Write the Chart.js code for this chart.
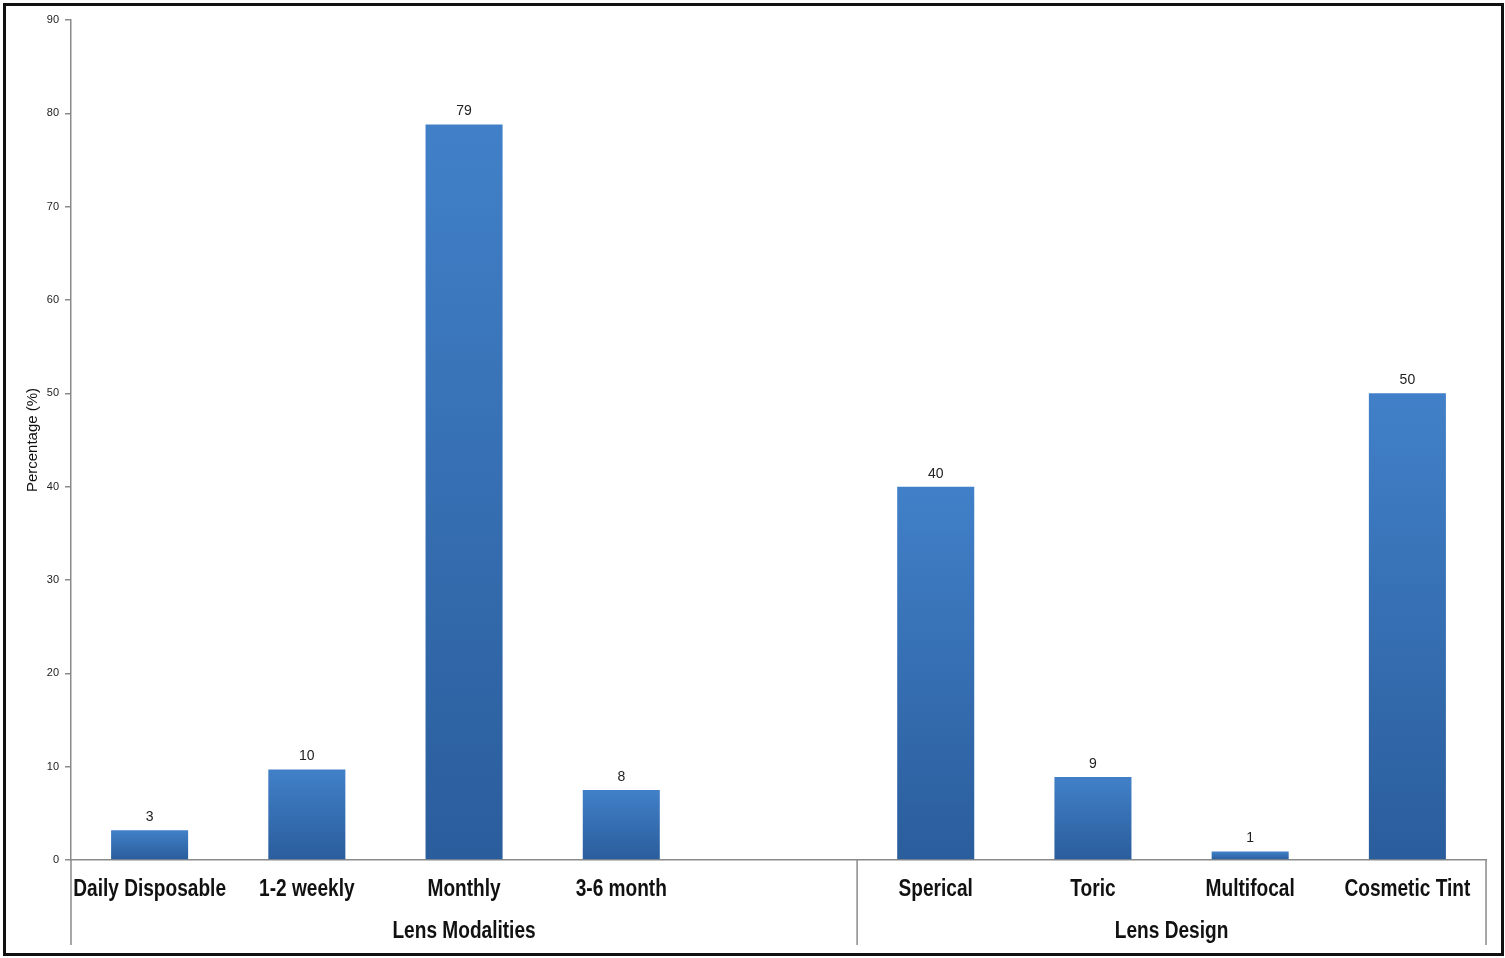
<!DOCTYPE html>
<html>
<head>
<meta charset="utf-8">
<script src="https://cdn.jsdelivr.net/npm/chart.js@4.4.1/dist/chart.umd.min.js"></script>
<style>
html,body{margin:0;padding:0;background:#fff;}
#frame{position:absolute;left:3px;top:3px;width:1495px;height:947px;border:3px solid #111;box-sizing:content-box;}
#wrap{position:absolute;left:0;top:0;width:1505px;height:958px;}
</style>
</head>
<body>
<div id="frame"></div>
<div id="wrap"><canvas id="c" width="1505" height="958"></canvas></div>
<script>
const categories = ["Daily Disposable","1-2 weekly","Monthly","3-6 month","","Sperical","Toric","Multifocal","Cosmetic Tint"];
const values = [3.2, 9.7, 78.8, 7.5, null, 40.0, 8.9, 0.9, 50.0];
const groupLabels = ["Lens Modalities","Lens Design"];
const groupStarts = [0, 5];
const groupEnds = [4, 8];
const yTicks = [0,10,20,30,40,50,60,70,80,90];
const yTitle = "Percentage (%)";

const sansFont = "'Liberation Sans',Arial,sans-serif";

function drawNarrow(ctx, text, cx, cy, sx) {
  ctx.save();
  ctx.translate(cx, cy);
  ctx.scale(sx, 1);
  ctx.fillText(text, 0, 0);
  ctx.restore();
}

const groupPlugin = {
  id: 'groups',
  afterDraw(chart) {
    const ctx = chart.ctx, x = chart.scales.x, y = chart.scales.y;
    const base = y.getPixelForValue(0);
    const bottom = 945;
    const half = (x.getPixelForValue(1) - x.getPixelForValue(0)) / 2;
    ctx.save();
    ctx.strokeStyle = '#8a8a8a';
    ctx.lineWidth = 1.5;
    const edges = [x.getPixelForValue(0) - half];
    for (let g = 0; g < groupEnds.length; g++) edges.push(x.getPixelForValue(groupEnds[g]) + half);
    edges.forEach(px => {
      ctx.beginPath(); ctx.moveTo(px, base); ctx.lineTo(px, bottom); ctx.stroke();
    });
    ctx.fillStyle = '#111';
    ctx.font = "bold 23px " + sansFont;
    ctx.textAlign = 'center'; ctx.textBaseline = 'middle';
    // category labels
    categories.forEach((lab, i) => {
      if (!lab) return;
      drawNarrow(ctx, lab, x.getPixelForValue(i), 890, 0.83);
    });
    // group labels
    for (let g = 0; g < groupLabels.length; g++) {
      const l = x.getPixelForValue(groupStarts[g]) - half;
      const r = x.getPixelForValue(groupEnds[g]) + half;
      drawNarrow(ctx, groupLabels[g], (l + r) / 2, 932, 0.83);
    }
    ctx.restore();
  },
  afterDatasetsDraw(chart) {
    const ctx = chart.ctx;
    const meta = chart.getDatasetMeta(0);
    ctx.save();
    ctx.fillStyle = '#222';
    ctx.font = "14px " + sansFont;
    ctx.textAlign = 'center'; ctx.textBaseline = 'bottom';
    meta.data.forEach((bar, i) => {
      const v = values[i];
      if (v === null || v === undefined) return;
      ctx.fillText(String(Math.round(v)), bar.x, bar.y - 6);
    });
    ctx.restore();
  }
};

new Chart(document.getElementById('c'), {
  type: 'bar',
  data: {
    labels: categories,
    datasets: [{
      data: values,
      barPercentage: 0.49,
      categoryPercentage: 1.0,
      backgroundColor: (context) => {
        const chart = context.chart;
        const ys = chart.scales && chart.scales.y;
        if (!ys || !chart.chartArea || context.raw == null) return '#3472b8';
        const top = ys.getPixelForValue(context.raw);
        const bot = ys.getPixelForValue(0);
        if (!isFinite(top) || !isFinite(bot) || top === bot) return '#3472b8';
        const g = chart.ctx.createLinearGradient(0, top, 0, bot);
        g.addColorStop(0, '#4180c8');
        g.addColorStop(1, '#2a5d9c');
        return g;
      },
      borderWidth: 0
    }]
  },
  options: {
    responsive: false,
    animation: false,
    layout: { padding: { left: 0, right: 19, top: 20, bottom: 13 } },
    plugins: { legend: { display: false }, tooltip: { enabled: false } },
    scales: {
      x: {
        offset: true,
        grid: { display: false, drawTicks: false },
        border: { display: true, color: '#8a8a8a', width: 1.5 },
        ticks: { display: false },
        afterFit(scale) { scale.height = 85; }
      },
      y: {
        min: 0, max: 90,
        afterBuildTicks(scale) { scale.ticks = yTicks.map(v => ({ value: v })); },
        grid: { display: true, drawOnChartArea: false, drawTicks: true, tickLength: 6, color: '#8a8a8a', lineWidth: 1.5 },
        border: { display: true, color: '#8a8a8a', width: 1.5 },
        ticks: { color: '#222', font: { family: sansFont, size: 11 }, padding: 6 },
        title: { display: true, text: yTitle, color: '#111', font: { family: sansFont, size: 15 }, padding: { top: 24, bottom: 10 } },
        afterFit(scale) { scale.width = 71; }
      }
    }
  },
  plugins: [groupPlugin]
});
</script>
</body>
</html>
